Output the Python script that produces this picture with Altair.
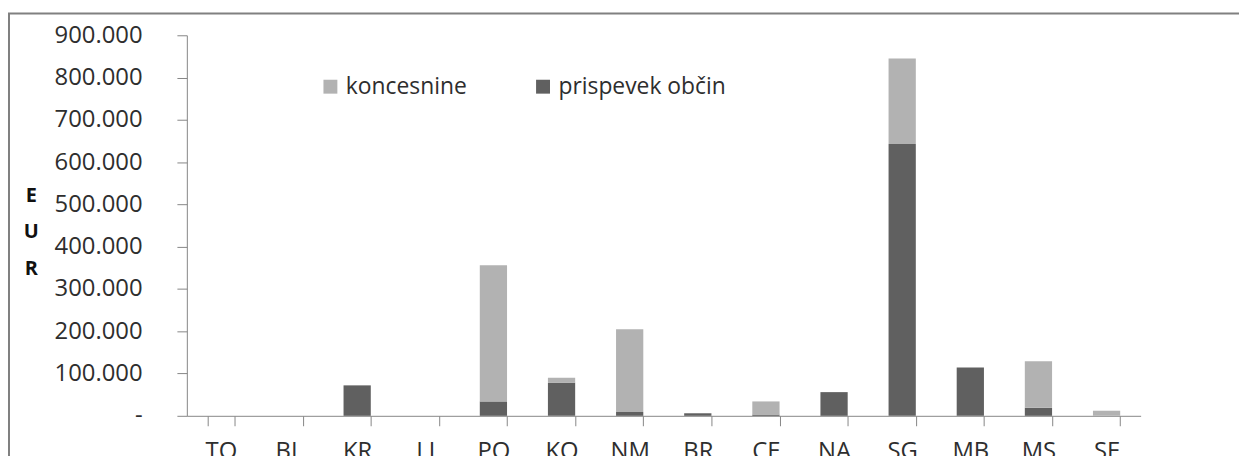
import altair as alt
import pandas as pd

categories = ["TO", "BL", "KR", "LJ", "PO", "KO", "NM", "BR", "CE", "NA", "SG", "MB", "MS", "SE"]
prispevek = [0, 0, 72000, 0, 34000, 78000, 9000, 6000, 3000, 56000, 643000, 114000, 19000, 0]
koncesnine = [0, 0, 0, 0, 322000, 12000, 196000, 0, 31000, 0, 202000, 0, 110000, 12000]
series_names = ["koncesnine", "prispevek občin"]
series_colors = ["#b2b2b2", "#606060"]
y_ticks = [0, 100000, 200000, 300000, 400000, 500000, 600000, 700000, 800000, 900000]

rows = []
for c, p, k in zip(categories, prispevek, koncesnine):
    rows.append({"cat": c, "series": "prispevek občin", "value": p, "ord": 0})
    rows.append({"cat": c, "series": "koncesnine", "value": k, "ord": 1})
df = pd.DataFrame(rows)

FONT = "Open Sans"
TXT = "#2e2e2e"
AX = "#868686"

bars = alt.Chart(df).mark_bar().encode(
    x=alt.X(
        "cat:N",
        sort=categories,
        scale=alt.Scale(paddingInner=0.6, paddingOuter=0.3),
        axis=alt.Axis(
            title=None, labelAngle=0, tickBand="extent", tickSize=10, labelPadding=14,
            labelFont=FONT, labelFontSize=24, labelColor=TXT,
            domainColor=AX, tickColor=AX, domainWidth=1, tickWidth=1,
        ),
    ),
    y=alt.Y(
        "value:Q",
        stack="zero",
        scale=alt.Scale(domain=[0, 900000], nice=False),
        axis=alt.Axis(
            values=y_ticks,
            labelExpr="datum.value == 0 ? '-\u00a0\u00a0' : replace(format(datum.value, ','), ',', '.')",
            grid=False, tickSize=10, labelPadding=35,
            labelFont=FONT, labelFontSize=24, labelColor=TXT,
            domainColor=AX, tickColor=AX, domainWidth=1, tickWidth=1,
            title=["E", "U", "R"], titleAngle=0, titleFont=FONT, titleFontWeight="bold",
            titleFontSize=20, titleLineHeight=37, titleColor="#111111",
            titleX=-157, titleY=161, titleAlign="center", titleBaseline="middle",
        ),
    ),
    color=alt.Color(
        "series:N",
        scale=alt.Scale(domain=series_names, range=series_colors),
        legend=alt.Legend(
            title=None, orient="none", legendX=133, legendY=40, direction="horizontal",
            symbolType="square", symbolSize=196, symbolStrokeWidth=0, symbolOpacity=1,
            labelFont=FONT, labelFontSize=23, labelColor=TXT, labelOffset=4, labelLimit=0,
            columnPadding=65, padding=0,
        ),
    ),
    order=alt.Order("ord:Q"),
)

border = alt.Chart(pd.DataFrame({"a": [0]})).mark_rect(
    fill="transparent", stroke="#808080", strokeWidth=2
).encode(
    x=alt.value(-179), x2=alt.value(1300), y=alt.value(-22), y2=alt.value(700)
)

chart = alt.layer(border, bars).properties(
    width=960,
    height=383,
    autosize=alt.AutoSizeParams(type="none"),
    padding={"left": 180, "top": 26, "right": 99, "bottom": 39},
).configure_view(strokeWidth=0)

chart.save("out.html", embed_options={"renderer": "svg", "actions": False})
